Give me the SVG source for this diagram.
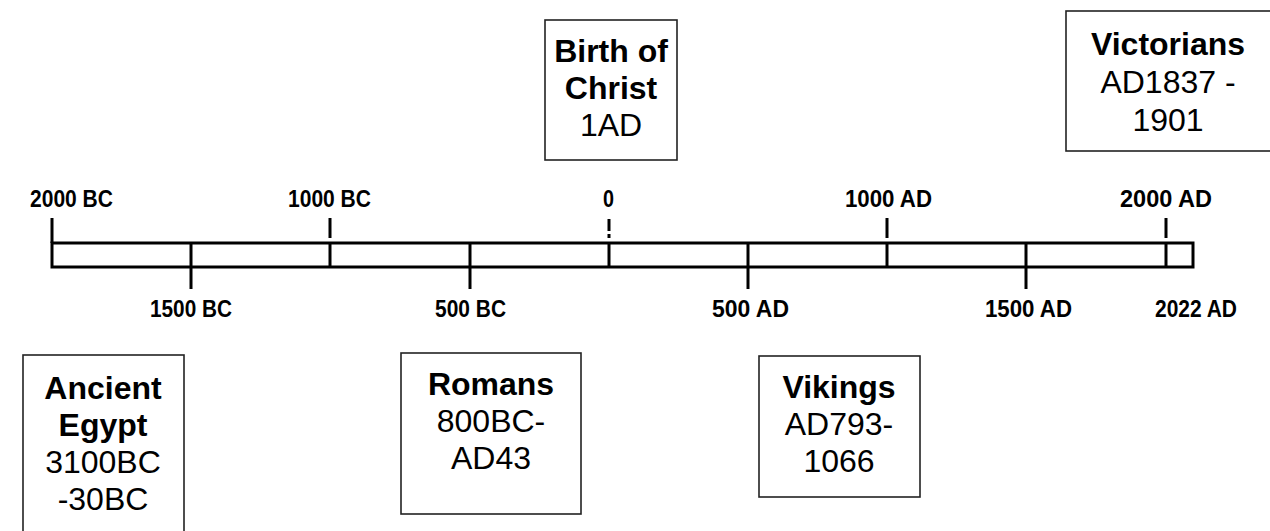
<svg xmlns="http://www.w3.org/2000/svg" width="1270" height="531" viewBox="0 0 1270 531">
<style>
.ax{stroke:#000;stroke-width:3;fill:none}
.box{fill:#fff;stroke:#222;stroke-width:1.6}
.sc{font-family:"Liberation Sans",Arial,sans-serif;font-size:23px;font-weight:bold;fill:#000}
.t{font-family:"Liberation Sans",Arial,sans-serif;font-size:32px;fill:#000;text-anchor:middle}
.b{font-weight:bold}
</style>
<rect width="1270" height="531" fill="#fff"/>
<g id="connectors">
<rect class="ax" x="52" y="243" width="1141" height="24"/>
<path class="ax" d="M52 218V243M191 243V289M330 218V238M330 243V267M470 243V289M609 219V231M609 234V238M609 243V267M748 243V289M887 218V238M887 243V267M1026 243V289M1166 218V238M1166 243V267"/>
</g>
<g id="scale">
<text class="sc" x="30" y="207" textLength="83" lengthAdjust="spacingAndGlyphs">2000 BC</text>
<text class="sc" x="288" y="207" textLength="83" lengthAdjust="spacingAndGlyphs">1000 BC</text>
<text class="sc" x="603" y="207" textLength="11" lengthAdjust="spacingAndGlyphs">0</text>
<text class="sc" x="845" y="207" textLength="87" lengthAdjust="spacingAndGlyphs">1000 AD</text>
<text class="sc" x="1120" y="207" textLength="92" lengthAdjust="spacingAndGlyphs">2000 AD</text>
<text class="sc" x="150" y="317" textLength="82" lengthAdjust="spacingAndGlyphs">1500 BC</text>
<text class="sc" x="435" y="317" textLength="71" lengthAdjust="spacingAndGlyphs">500 BC</text>
<text class="sc" x="712" y="317" textLength="77" lengthAdjust="spacingAndGlyphs">500 AD</text>
<text class="sc" x="985" y="317" textLength="87" lengthAdjust="spacingAndGlyphs">1500 AD</text>
<text class="sc" x="1155" y="317" textLength="82" lengthAdjust="spacingAndGlyphs">2022 AD</text>
</g>
<g id="birth-of-christ">
<rect class="box" x="545" y="20" width="132" height="140"/>
<text class="t b" x="611" y="62">Birth of</text>
<text class="t b" x="611" y="99">Christ</text>
<text class="t" x="611" y="136">1AD</text>
</g>
<g id="victorians">
<rect class="box" x="1066" y="11" width="215" height="140"/>
<text class="t b" x="1168" y="55">Victorians</text>
<text class="t" x="1168" y="93">AD1837 -</text>
<text class="t" x="1168" y="131">1901</text>
</g>
<g id="ancient-egypt">
<rect class="box" x="23" y="355" width="161" height="190"/>
<text class="t b" x="103" y="399">Ancient</text>
<text class="t b" x="103" y="436">Egypt</text>
<text class="t" x="103" y="473">3100BC</text>
<text class="t" x="103" y="510">-30BC</text>
</g>
<g id="romans">
<rect class="box" x="401" y="353" width="180" height="161"/>
<text class="t b" x="491" y="395">Romans</text>
<text class="t" x="491" y="432">800BC-</text>
<text class="t" x="491" y="469">AD43</text>
</g>
<g id="vikings">
<rect class="box" x="759" y="356" width="161" height="141"/>
<text class="t b" x="839" y="398">Vikings</text>
<text class="t" x="839" y="435">AD793-</text>
<text class="t" x="839" y="472">1066</text>
</g>
</svg>
